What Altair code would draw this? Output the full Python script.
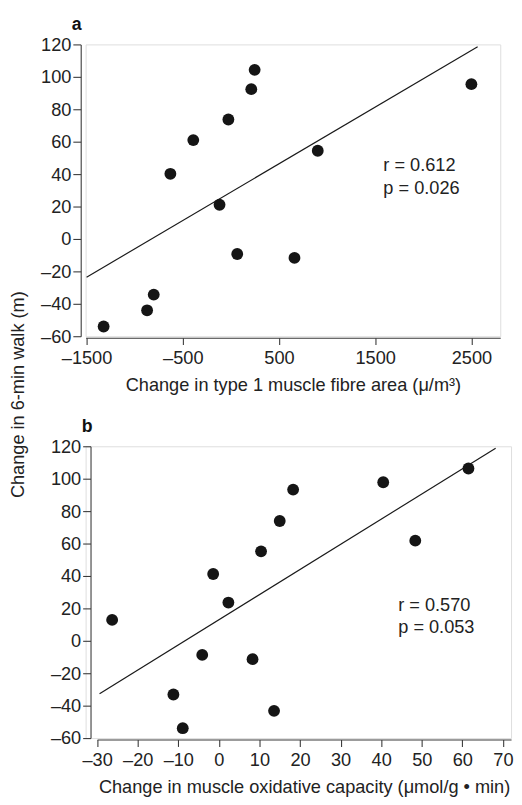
import altair as alt
import pandas as pd

FONT = "Liberation Sans"
FS = 18.5

# Panel a: change in type 1 muscle fibre area vs change in 6-min walk
a_x = [-1323, -871, -802, -629, -391, -26, -118, 66, 212, 247, 661, 903, 2500]
a_y = [-54, -44, -34.3, 40.2, 61, 73.7, 21.1, -9.3, 92.4, 104.3, -11.7, 54.4, 95.5]
a_fit_x = [-1500, 2565]
a_fit_y = [-23.6, 118.6]
a_stats = ["r = 0.612", "p = 0.026"]

# Panel b: change in muscle oxidative capacity vs change in 6-min walk
b_x = [-26.3, -11.2, -8.9, -4.1, -1.4, 2.35, 8.3, 10.4, 13.6, 15.0, 18.3, 40.5, 48.4, 61.5]
b_y = [12.9, -33.1, -53.9, -8.7, 41.2, 23.6, -11.3, 55.2, -43.2, 73.9, 93.3, 97.8, 61.8, 106.3]
b_fit_x = [-29.4, 68.2]
b_fit_y = [-32.7, 118.8]
b_stats = ["r = 0.570", "p = 0.053"]

y_ticks = [-60, -40, -20, 0, 20, 40, 60, 80, 100, 120]
a_xticks = [-1500, -500, 500, 1500, 2500]
b_xticks = [-30, -20, -10, 0, 10, 20, 30, 40, 50, 60, 70]

# annotation anchor (data coords)
a_stat_x, a_stat_y = 1585, [41.9, 27.8]
b_stat_x, b_stat_y = 44.2, [18.1, 5.0]

DOT = "#151515"
AX = "#3a3a3a"
LABEL_EXPR = "datum.value < 0 ? '\u2013' + format(-datum.value, 'd') : format(datum.value, 'd')"


def panel(px, py, fx, fy, stats, sx, sy, xdom, xrange_, xticks, xtitle,
          width, yoffset, letter, letter_dx, ytitle=None):
    pts = pd.DataFrame({"x": px, "y": py})
    fit = pd.DataFrame({"x": fx, "y": fy})
    txt = pd.DataFrame({"x": [sx] * len(stats), "y": sy, "t": stats})

    xscale = alt.Scale(domain=xdom, range=xrange_, nice=False, zero=False)
    yscale = alt.Scale(domain=[-60, 120], nice=False, zero=False)

    common = dict(domainColor=AX, tickColor=AX, labelColor="#222",
                  labelFont=FONT, labelFontSize=FS, grid=False,
                  labelOverlap=False, labelFlush=False, labelBound=False,
                  labelExpr=LABEL_EXPR, domainWidth=1.1, tickWidth=1.1)
    yaxis_kw = dict(values=y_ticks, tickCount=len(y_ticks), offset=yoffset,
                    tickSize=8, labelPadding=2, **common)
    if ytitle:
        yaxis_kw.update(title=ytitle, titleX=-64.5, titleY=356, titleAngle=270,
                        titleAlign="center", titleBaseline="middle",
                        titleFont=FONT, titleFontSize=FS, titleFontWeight="normal",
                        titleColor="#222")
    else:
        yaxis_kw.update(title=None)
    yaxis = alt.Axis(**yaxis_kw)
    xaxis = alt.Axis(values=xticks, tickCount=len(xticks), offset=1.5, tickSize=7,
                     labelPadding=4,
                     title=xtitle, titleFont=FONT, titleFontSize=FS,
                     titleFontWeight="normal", titleColor="#222", titlePadding=9,
                     **common)

    fit_line = alt.Chart(fit).mark_line(color="#1a1a1a", strokeWidth=1.2).encode(
        x=alt.X("x:Q", scale=xscale, axis=xaxis),
        y=alt.Y("y:Q", scale=yscale, axis=yaxis),
    )
    dots = alt.Chart(pts).mark_circle(size=145, color=DOT, opacity=1).encode(
        x="x:Q", y="y:Q")
    labels = alt.Chart(txt).mark_text(align="left", baseline="alphabetic",
                                      font=FONT, fontSize=FS, color="#222").encode(
        x="x:Q", y="y:Q", text="t:N")
    return alt.layer(fit_line, dots, labels).properties(
        width=width, height=297,
        title=alt.TitleParams(letter, anchor="start", frame="group", dx=letter_dx,
                              font=FONT, fontSize=18, fontWeight="bold",
                              color="#111", offset=2),
    )


pa = panel(a_x, a_y, a_fit_x, a_fit_y, a_stats, a_stat_x, a_stat_y,
           [-1510, 2800], [0, 422], a_xticks,
           "Change in type 1 muscle fibre area (\u03bc/m\u00b3)", 422, 5, "a", -14,
           ytitle="Change in 6-min walk (m)")
pb = panel(b_x, b_y, b_fit_x, b_fit_y, b_stats, b_stat_x, b_stat_y,
           [-30, 72], [11.7, 433], b_xticks,
           "Change in muscle oxidative capacity (\u03bcmol/g \u2022 min)", 433, -5, "b", -4)

chart = alt.vconcat(pa, pb, spacing=112, bounds="flush").properties(
    padding={"left": 0, "top": 0, "right": 0, "bottom": 0}
).configure_view(stroke=None).configure(background="white")

chart.save("out.html", embed_options={"renderer": "svg", "actions": False})
